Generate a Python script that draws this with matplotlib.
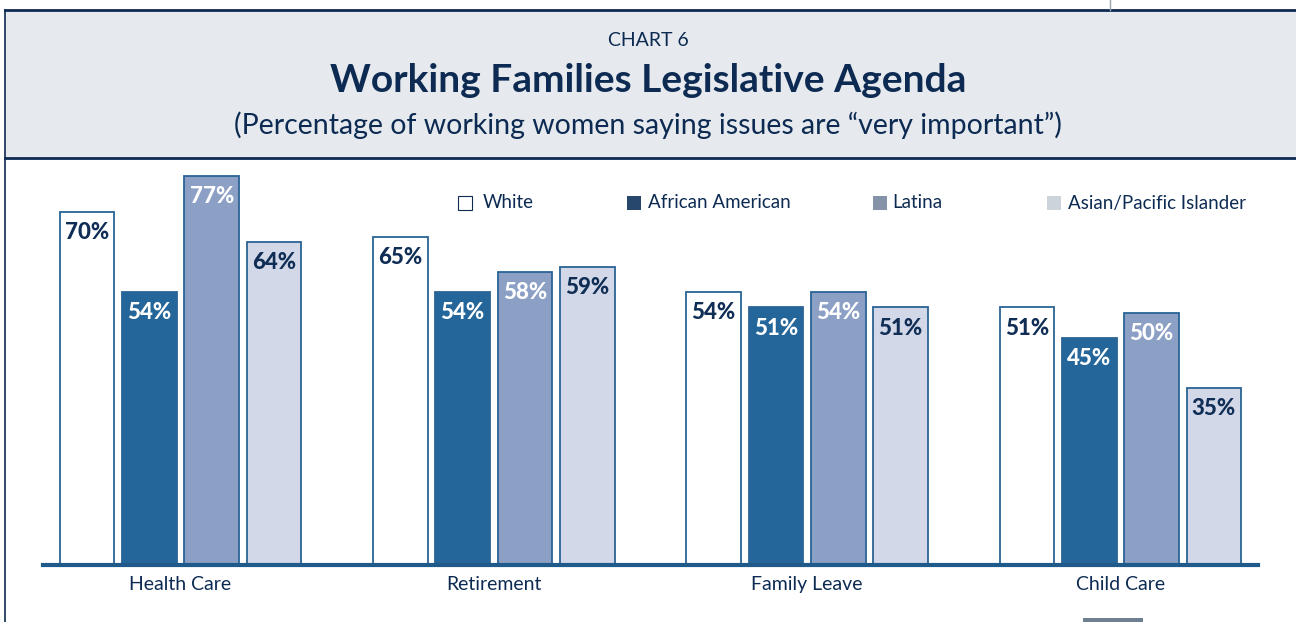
import numpy as np
import matplotlib.pyplot as plt
from matplotlib.patches import Rectangle

categories = ['Health Care', 'Retirement', 'Family Leave', 'Child Care']
groups = ['White', 'African American', 'Latina', 'Asian/Pacific Islander']
white = [70, 65, 54, 51]
african_american = [54, 54, 51, 45]
latina = [77, 58, 54, 50]
asian_pi = [64, 59, 51, 35]

series = [white, african_american, latina, asian_pi]
fills = ['#ffffff', '#246699', '#8ca0c5', '#d2d8e8']
legend_fills = ['#ffffff', '#27476c', '#8593a8', '#cdd3da']
label_colors = ['#0f2d55', '#ffffff', '#ffffff', '#0f2d55']
edge = '#2a6496'
navy = '#0d2b52'

plt.rcParams['font.family'] = ['Lato', 'DejaVu Sans']

W, H = 1296, 622
fig = plt.figure(figsize=(W / 100, H / 100), dpi=100)


def fx(px):
    return px / W


def fy(py):
    return 1 - py / H


# header band
fig.add_artist(Rectangle((fx(5), fy(158)), fx(1296 - 5), (148) / H,
                         transform=fig.transFigure, facecolor='#e6e9ee',
                         edgecolor='none', zorder=0))
fig.add_artist(plt.Line2D([fx(5), 1], [fy(10), fy(10)], transform=fig.transFigure,
                          color=navy, lw=2))
fig.add_artist(plt.Line2D([fx(5), 1], [fy(158), fy(158)], transform=fig.transFigure,
                          color=navy, lw=2))
fig.add_artist(plt.Line2D([fx(5), fx(5)], [0, fy(10)], transform=fig.transFigure,
                          color=navy, lw=1.2))
fig.add_artist(plt.Line2D([fx(1110), fx(1110)], [fy(10), 1], transform=fig.transFigure,
                          color='#9aa3ae', lw=1))
fig.add_artist(Rectangle((fx(1083), 0), fx(60), 4 / H, transform=fig.transFigure,
                         facecolor='#6e7f92', edgecolor='none'))

fig.text(0.5, fy(41), 'CHART 6', ha='center', va='center', fontsize=14, color=navy)
fig.text(0.5, fy(80), 'Working Families Legislative Agenda', ha='center', va='center',
         fontsize=28, fontweight='bold', color=navy)
fig.text(0.5, fy(125), '(Percentage of working women saying issues are \u201cvery important\u201d)',
         ha='center', va='center', fontsize=20.5, color=navy)

# bars
ax = fig.add_axes([fx(43), fy(565), fx(1258 - 43), (565 - 160) / H])
ax.set_facecolor('none')
x = np.arange(len(categories))
step = 0.199
width = 0.175
for i, (vals, fc, tc) in enumerate(zip(series, fills, label_colors)):
    pos = x + (i - 1.5) * step
    ax.bar(pos, vals, width=width, color=fc, edgecolor=edge, linewidth=1.3, zorder=2)
    for p, v in zip(pos, vals):
        ax.text(p, v - 2.0, f'{v}%', ha='center', va='top', fontsize=16,
                fontweight='black', color=tc, zorder=3)

ax.set_xlim(-0.439, 3.439)
ax.set_ylim(0, 80.2)
for s in ['top', 'right', 'left']:
    ax.spines[s].set_visible(False)
ax.spines['bottom'].set_color('#1f5a8a')
ax.spines['bottom'].set_linewidth(3)
ax.spines['bottom'].set_zorder(4)
ax.set_yticks([])
ax.set_xticks(x)
ax.set_xticklabels(categories, fontsize=14, color=navy)
ax.tick_params(axis='x', length=0, pad=8)

# legend
sq_x = [458, 627, 873, 1047]
txt_x = [483, 648, 892, 1068]
for lbl, sx, tx, lc in zip(groups, sq_x, txt_x, legend_fills):
    fig.add_artist(Rectangle((fx(sx), fy(210)), fx(14), 14 / H, transform=fig.transFigure,
                             facecolor=lc, edgecolor=navy if lc == '#ffffff' else 'none',
                             linewidth=0.8))
    fig.text(fx(tx), fy(203), lbl, ha='left', va='center', fontsize=13.5, color=navy)

fig.savefig('out.png', dpi=100)
